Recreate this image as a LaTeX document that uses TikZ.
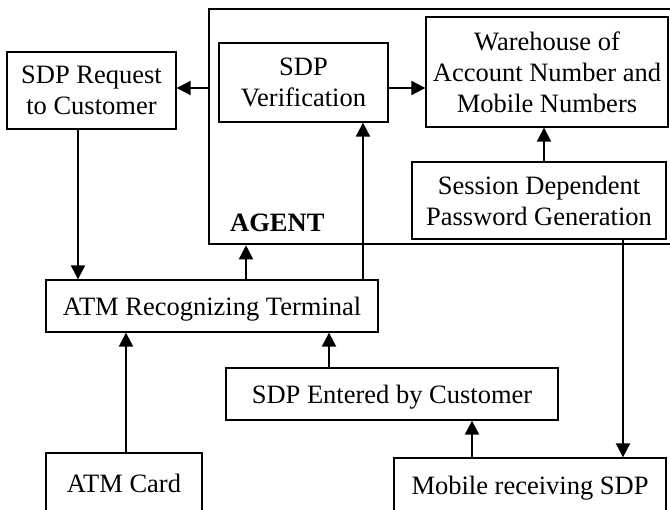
\documentclass[tikz,border=0pt]{standalone}
\usepackage{fontspec}
\setmainfont{Liberation Serif}
\usetikzlibrary{arrows.meta}
\begin{document}
\begin{tikzpicture}[x=1pt,y=-1pt,
  box/.style={draw, line width=1.3pt, inner sep=0pt, align=center,
    font=\fontsize{26.5}{31}\selectfont},
  oneline/.style={text depth=0pt},
  arr/.style={line width=2pt, -{Triangle[length=14pt,width=14pt]}}]
\useasboundingbox (0,0) rectangle (670,510);
\fill[white] (0,0) rectangle (670,510);
\clip (0,0) rectangle (670,510);

% the agent enclosure (runs past the right edge)
\node[draw, line width=2.6pt, minimum width=481pt, minimum height=235pt,
  inner sep=0pt] (agent) at (449.5,126.5) {};
\node[font=\bfseries\fontsize{26.5}{31}\selectfont, anchor=base west,
  inner sep=0pt] (agentlabel) at (230,232) {AGENT};

% boxes
\node[box, minimum width=169pt, minimum height=77pt] (req) at (91.5,90.5)
  {SDP Request\\to Customer};
\node[box, minimum width=169pt, minimum height=79pt] (ver) at (303.5,82.5)
  {SDP\\Verification};
\node[box, minimum width=242pt, minimum height=110pt] (ware) at (547,72)
  {Warehouse of\\Account Number and\\Mobile Numbers};
\node[box, minimum width=254pt, minimum height=77pt] (sess) at (539,200.5)
  {Session Dependent\\Password Generation};
\node[box, oneline, minimum width=332pt, minimum height=52pt] (atm) at (212,306)
  {ATM Recognizing Terminal};
\node[box, oneline, minimum width=332pt, minimum height=52pt] (ent) at (392,394)
  {SDP Entered by Customer};
\node[box, oneline, minimum width=156pt, minimum height=60pt] (card) at (124,483)
  {ATM Card};
\node[box, oneline, minimum width=272pt, minimum height=54pt] (mob) at (530,485)
  {Mobile receiving SDP};

% connector columns and level
\coordinate (lvl) at (0,88);
\coordinate (c1) at (78,0);
\coordinate (c2) at (246,0);
\coordinate (c3) at (363,0);
\coordinate (c4) at (126,0);
\coordinate (c5) at (329,0);
\coordinate (c6) at (472,0);
\coordinate (c7) at (623,0);
\coordinate (c8) at (544,0);

% connectors
\draw[arr] (agent.west |- lvl) -- (req.east |- lvl);
\draw[arr] (ver.east |- lvl) -- (ware.west |- lvl);
\draw[arr] (sess.north -| c8) -- (ware.south -| c8);
\draw[arr] (req.south -| c1) -- (atm.north -| c1);
\draw[arr] (atm.north -| c2) -- (agent.south -| c2);
\draw[arr] (atm.north -| c3) -- (ver.south -| c3);
\draw[arr] (card.north -| c4) -- (atm.south -| c4);
\draw[arr] (ent.north -| c5) -- (atm.south -| c5);
\draw[arr] (mob.north -| c6) -- (ent.south -| c6);
\draw[arr] (sess.south -| c7) -- (mob.north -| c7);
\end{tikzpicture}
\end{document}
